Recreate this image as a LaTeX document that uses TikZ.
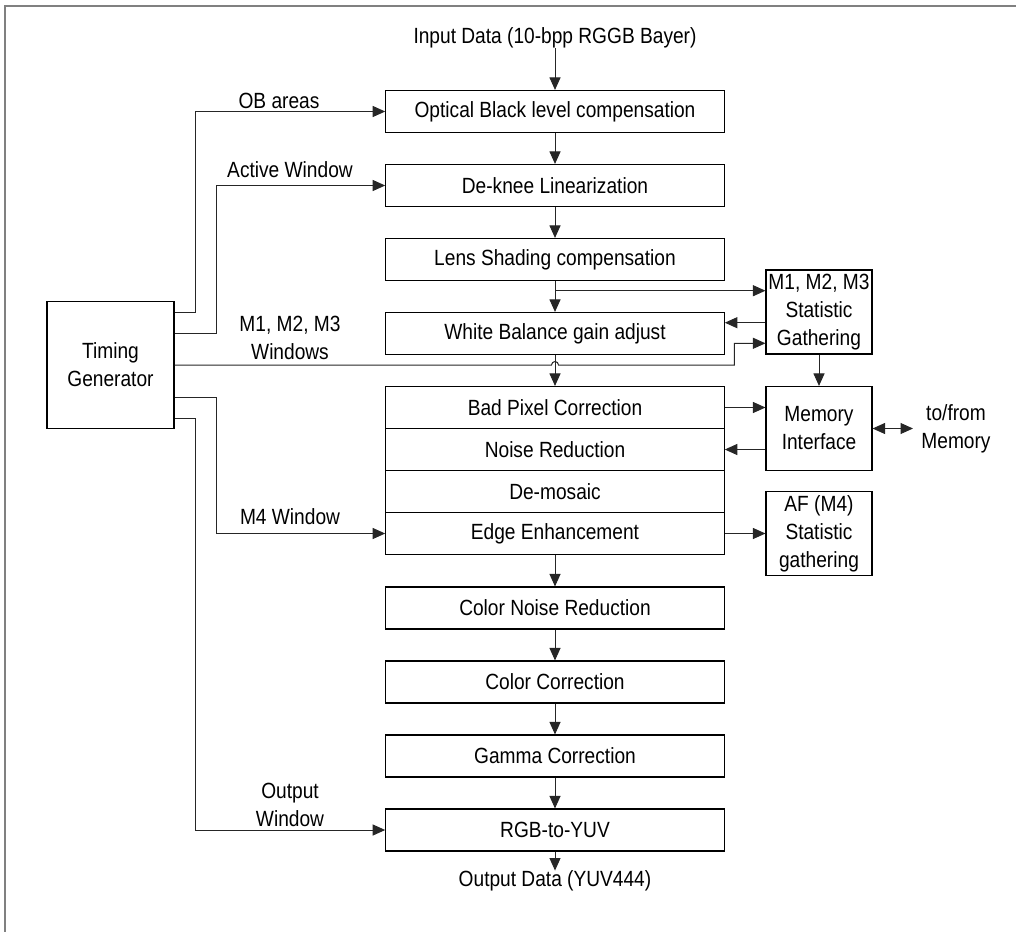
\documentclass[tikz,border=0pt]{standalone}
\usepackage{fontspec}
\setmainfont{Liberation Sans}[FakeStretch=0.87]
\usetikzlibrary{arrows.meta}
\begin{document}
\begin{tikzpicture}[x=1pt,y=-1pt,
  every node/.style={font=\fontsize{22}{28}\selectfont, inner sep=0pt, align=center},
  stage/.style={draw=black, line width=1.1pt, minimum width=338.5pt, minimum height=42pt},
  sidebox/.style={draw=black, line width=1.1pt, minimum width=106pt, minimum height=84pt},
  conn/.style={draw=black!85, line width=1pt},
  tip/.tip={Triangle[length=12.5pt,width=11pt]},
  arr/.style={conn, -tip},
  darr/.style={conn, tip-tip}
]
\useasboundingbox (0,0) rectangle (1016,932);
% page frame (top and left edges)
\draw[line width=2pt, black!50] (1016,5.5) -- (5,5.5) -- (5,932);

% main pipeline
\node (inp) at (555,38) {Input Data (10-bpp RGGB Bayer)};
\node[stage] (ob)   at (555,111.5) {Optical Black level compensation};
\node[stage] (dk)   at (555,185.5) {De-knee Linearization};
\node[stage] (ls)   at (555,259.5) {Lens Shading compensation};
\node[stage] (wb)   at (555,333.5) {White Balance gain adjust};
\node[stage] (bp)   at (555,407.5) {Bad Pixel Correction};
\node[stage] (nr)   at (555,449.5) {Noise Reduction};
\node[stage] (dm)   at (555,491.5) {De-mosaic};
\node[stage] (ee)   at (555,533.5) {Edge Enhancement};
\node[stage] (cnr)  at (555,608)   {Color Noise Reduction};
\node[stage] (cc)   at (555,682)   {Color Correction};
\node[stage] (gc)   at (555,756)   {Gamma Correction};
\node[stage] (yuv)  at (555,830)   {RGB-to-YUV};
\node (outp) at (555,881) {Output Data (YUV444)};

% side blocks
\node[sidebox, minimum width=127pt, minimum height=126.6pt] (tg) at (110.5,365) {Timing\\Generator};
\node[sidebox] (st)  at (819,312)   {M1, M2, M3\\Statistic\\Gathering};
\node[sidebox] (mi)  at (819,428.5) {Memory\\Interface};
\node[sidebox] (af)  at (819,533.8) {AF (M4)\\Statistic\\gathering};
\node (mem) at (956,428.5) {to/from\\Memory};
\coordinate (memin) at (913,428.5);

% labels on the timing lines
\node (lob)  at (279,101) {OB areas};
\node (lact) at (290,170) {Active Window};
\node (lm13) at (290,338) {M1, M2, M3\\Windows};
\node (lm4)  at (290,517) {M4 Window};
\node (lout) at (290,805) {Output\\Window};

% data flow
\draw[arr] (inp) -- (ob);
\draw[arr] (ob) -- (dk);
\draw[arr] (dk) -- (ls);
\draw[arr] (ls) -- (wb);
\draw[arr] (wb) -- (bp);
\draw[arr] (ee) -- (cnr);
\draw[arr] (cnr) -- (cc);
\draw[arr] (cc) -- (gc);
\draw[arr] (gc) -- (yuv);
\draw[arr] (yuv) -- (outp);

% statistics and memory paths
\coordinate (lsb) at (555,290.7);
\draw[arr] (lsb) -- (lsb -| st.west);
\draw[arr] (st.west |- 0,322.7) -- (wb.east |- 0,322.7);
\draw[arr] (st) -- (mi);
\draw[arr] (bp.east) -- (bp.east -| mi.west);
\draw[arr] (mi.west |- nr.east) -- (nr.east);
\draw[darr] (mi.east) -- (memin);
\draw[arr] (ee.east) -- (ee.east -| af.west);

% timing generator outputs
\draw[arr] (tg.east |- 0,312) -- (195,312) |- (ob.west);
\draw[arr] (tg.east |- 0,333) -- (216.7,333) |- (dk.west);
\draw[arr] (tg.east |- 0,397) -- (216.7,397) |- (ee.west);
\draw[arr] (tg.east |- 0,418) -- (195,418) |- (yuv.west);
\draw[arr] (tg.east |- 0,365) -- (551.5,365) arc (180:360:3.5) -- (734.3,365) -- (734.3,343.3) -- (st.west |- 0,343.3);
\end{tikzpicture}
\end{document}
